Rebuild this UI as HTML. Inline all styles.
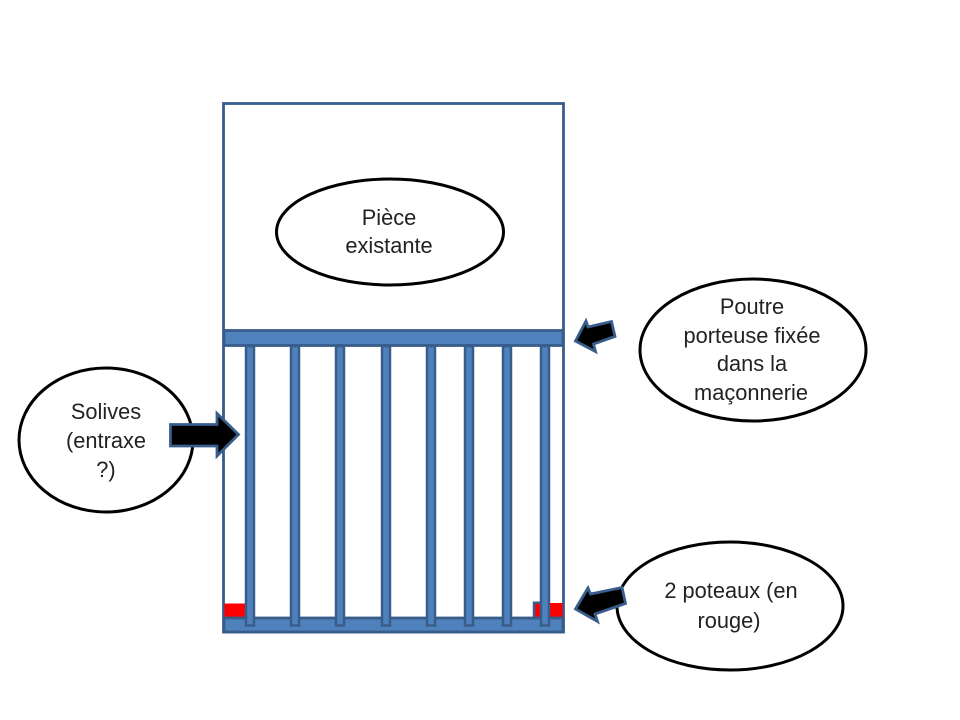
<!DOCTYPE html>
<html lang="fr">
<head>
<meta charset="utf-8">
<title>Schéma</title>
<style>
html,body{margin:0;padding:0;background:#fff;width:960px;height:720px;overflow:hidden}
svg{display:block}
text{font-family:"Liberation Sans",sans-serif;font-size:21.8px;fill:#222;text-anchor:middle}
</style>
</head>
<body>
<svg width="960" height="720" viewBox="0 0 960 720" xmlns="http://www.w3.org/2000/svg">
<rect width="960" height="720" fill="#fff"/>
<rect x="223.500" y="103.500" width="340" height="528.500" fill="#fff" stroke="#385d8a" stroke-width="2.800"/>
<g fill="#ff0000">
<rect x="224.500" y="603.500" width="21.500" height="13.500"/>
<rect x="534" y="603" width="28.500" height="14"/>
</g>
<path d="M534 617V602.800H545" fill="none" stroke="#385d8a" stroke-width="2.500"/>
<rect x="224" y="330.500" width="339" height="15" fill="#4f81bd" stroke="#385d8a" stroke-width="2.800"/>
<rect x="224" y="618" width="339" height="14" fill="#4f81bd" stroke="#385d8a" stroke-width="2.800"/>
<g fill="#4f81bd" stroke="#385d8a" stroke-width="2.500">
<rect x="246" y="346" width="8" height="279.500"/>
<rect x="291" y="346" width="8" height="279.500"/>
<rect x="336" y="346" width="8" height="279.500"/>
<rect x="382" y="346" width="8" height="279.500"/>
<rect x="427" y="346" width="8" height="279.500"/>
<rect x="465" y="346" width="8" height="279.500"/>
<rect x="503" y="346" width="8" height="279.500"/>
<rect x="541" y="346" width="8" height="279.500"/>
</g>
<g fill="#fff" stroke="#000" stroke-width="3">
<ellipse cx="390" cy="232" rx="113.500" ry="53"/>
<ellipse cx="753" cy="350" rx="113" ry="71"/>
<ellipse cx="106" cy="440" rx="87" ry="72"/>
<ellipse cx="730" cy="606" rx="113" ry="64"/>
</g>
<g fill="#000" stroke="#385d8a" stroke-width="2.800" stroke-linejoin="miter">
<polygon points="170.500,424.500 217,424.500 217,413.500 238.500,434.500 217,456 217,446 170.500,446"/>
<polygon points="575.500,341 586,321 588,327 611.500,321.500 615,336.500 593.500,344 595.500,351.500"/>
<polygon points="575.500,609 588,588 590.500,594 622,587.500 625.500,603.500 595,614 597.500,621.500"/>
</g>
<text x="389" y="225">Pièce</text>
<text x="389" y="253">existante</text>
<text x="752" y="314">Poutre</text>
<text x="752" y="343">porteuse fixée</text>
<text x="752" y="371">dans la</text>
<text x="751" y="400">maçonnerie</text>
<text x="106" y="419">Solives</text>
<text x="106" y="448">(entraxe</text>
<text x="106" y="477">?)</text>
<text x="731" y="598">2 poteaux (en</text>
<text x="729" y="628">rouge)</text>
</svg>
</body>
</html>
